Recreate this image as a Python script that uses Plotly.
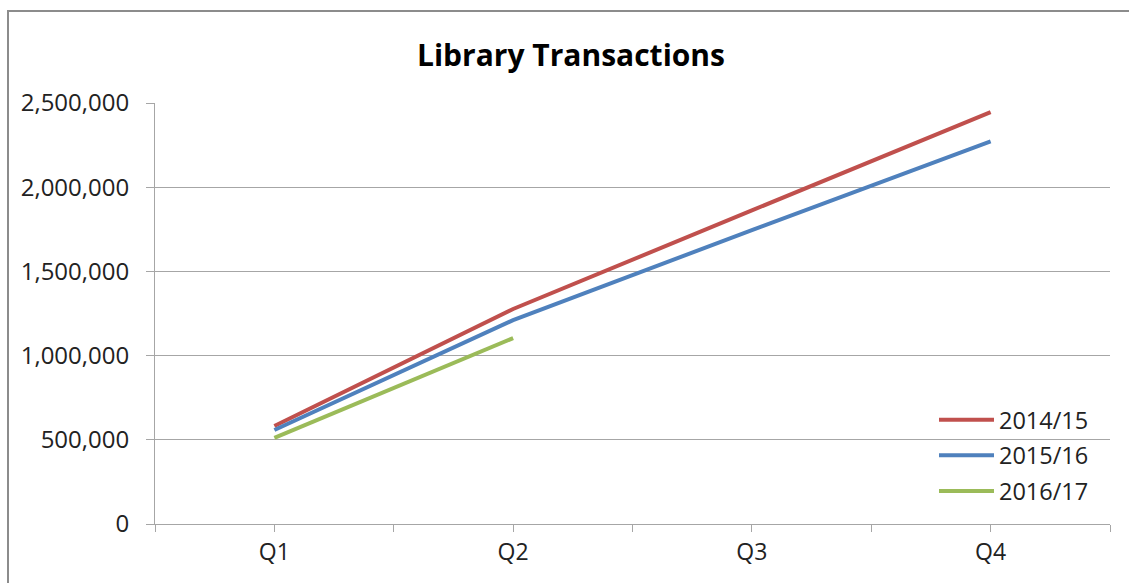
import plotly.graph_objects as go

categories = ["Q1", "Q2", "Q3", "Q4"]
series_names = ["2014/15", "2015/16", "2016/17"]
values_2014_15 = [582000, 1277000, 1862000, 2446000]
values_2015_16 = [558000, 1211000, 1745000, 2272000]
values_2016_17 = [511000, 1104000, None, None]
y_ticks = [0, 500000, 1000000, 1500000, 2000000, 2500000]
y_tick_labels = ["0", "500,000", "1,000,000", "1,500,000", "2,000,000", "2,500,000"]
colors = ["#C0504D", "#4F81BD", "#9BBB59"]

x_idx = list(range(len(categories)))
tickvals = []
ticktext = []
for i, c in enumerate(categories):
    tickvals += [i - 0.5, i]
    ticktext += ["", c]
tickvals.append(len(categories) - 0.5)
ticktext.append("")

FONT = "Open Sans"
fig = go.Figure()
for name, vals, col in zip(series_names, [values_2014_15, values_2015_16, values_2016_17], colors):
    fig.add_trace(go.Scatter(x=x_idx, y=vals, name=name, mode="lines",
                             line=dict(color=col, width=4), legendgroup=name))

fig.update_layout(
    width=1129, height=583,
    margin=dict(l=155, r=19, t=103, b=59),
    paper_bgcolor="white", plot_bgcolor="white",
    font=dict(family=FONT, size=23, color="#222222"),
    title=dict(text="<b>Library Transactions</b>", x=571/1129, xref="container", xanchor="center",
               y=1 - 55/583, yanchor="middle", font=dict(family=FONT, size=30, color="#000000")),
    showlegend=True,
    legend=dict(x=(934-155)/955, y=(524-398)/421, xanchor="left", yanchor="top",
                bgcolor="rgba(0,0,0,0)", font=dict(size=23.5, color="#222222"),
                traceorder="grouped", tracegroupgap=2, itemwidth=55),
    xaxis=dict(range=[-0.5, len(categories) - 0.5], tickmode="array", tickvals=tickvals, ticktext=ticktext,
               showgrid=False, zeroline=False, showline=True, linecolor="#A6A6A6", linewidth=1,
               ticks="outside", ticklen=7, tickcolor="#A6A6A6", tickfont=dict(size=23, color="#222222")),
    yaxis=dict(range=[0, 2500000], tickmode="array", tickvals=y_ticks, ticktext=y_tick_labels,
               showgrid=True, gridcolor="#A6A6A6", gridwidth=1, zeroline=False,
               showline=True, linecolor="#A6A6A6", linewidth=1,
               ticks="outside", ticklen=8, tickcolor="#A6A6A6", ticklabelstandoff=12,
               tickfont=dict(size=24, color="#222222")),
)

fig.add_shape(type="rect", xref="paper", yref="paper",
              x0=(8-155)/955, x1=1.2, y0=-0.5, y1=(524-11)/421,
              line=dict(color="#8C8C8C", width=2), layer="below")

fig.write_html("out.html", config={"displayModeBar": False},
               post_script="document.body.style.margin='0';document.body.style.padding='0';")
